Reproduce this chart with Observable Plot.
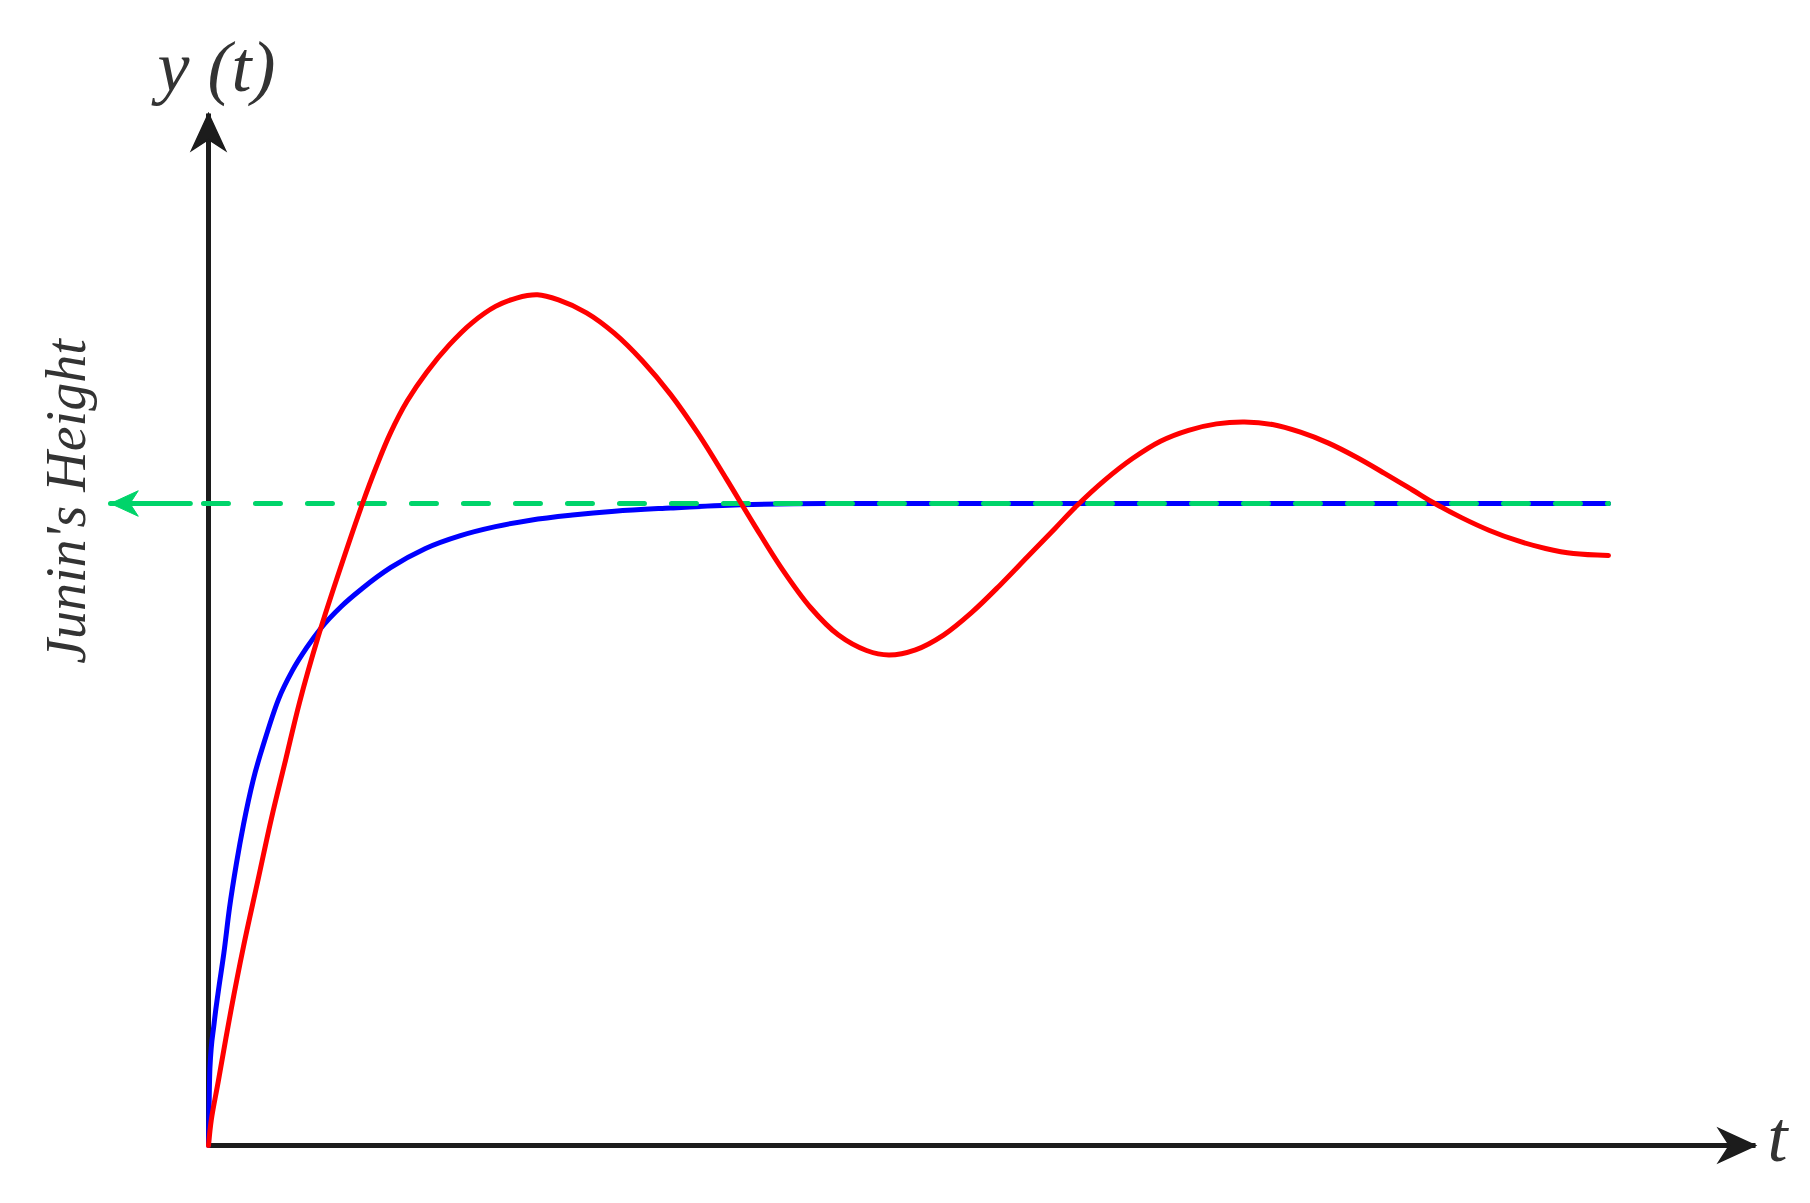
<!DOCTYPE html>
<html>
<head>
<meta charset="utf-8">
<script src="https://cdn.jsdelivr.net/npm/d3@7"></script>
<script src="https://cdn.jsdelivr.net/npm/@observablehq/plot@0.6"></script>
<style>
  html, body { margin: 0; padding: 0; background: #ffffff; }
  #chart svg { display: block; }
</style>
</head>
<body>
<div id="chart"></div>
<script>
// ---- data (t in arbitrary time units, y relative to Junin's height = 1) ----
const redT = [0, 0.02, 0.07, 0.16, 0.25, 0.35, 0.45, 0.55, 0.65, 0.78, 0.92, 1.10, 1.20, 1.30, 1.42, 1.56, 1.72, 1.88,
  2.05, 2.20, 2.35, 2.50, 2.70, 2.90, 3.10, 3.30, 3.50, 3.70, 3.90, 4.10, 4.30, 4.50, 4.70, 4.86, 5.05, 5.25, 5.45,
  5.65, 5.85, 6.05, 6.20, 6.40, 6.60, 6.80, 7.00, 7.20, 7.40, 7.60, 7.80, 8.00, 8.20, 8.40, 8.60, 8.76, 8.95, 9.15,
  9.35, 9.55, 9.75, 10.0];
const redY = [0, 0.04, 0.10, 0.21, 0.31, 0.41, 0.51, 0.60, 0.69, 0.79, 0.885, 1.00, 1.058, 1.110, 1.160, 1.205, 1.247, 1.281,
  1.307, 1.320, 1.325, 1.317, 1.297, 1.265, 1.222, 1.170, 1.108, 1.038, 0.966, 0.897, 0.838, 0.795, 0.771, 0.764, 0.772, 0.795, 0.830,
  0.872, 0.917, 0.962, 0.996, 1.036, 1.070, 1.097, 1.114, 1.124, 1.127, 1.123, 1.111, 1.094, 1.072, 1.047, 1.021, 1.00, 0.978, 0.958,
  0.942, 0.930, 0.922, 0.919];

const blueT = [0, 0.01, 0.04, 0.07, 0.11, 0.15, 0.20, 0.25, 0.32, 0.40, 0.50, 0.60, 0.70, 0.80, 0.95, 1.10, 1.30,
  1.55, 1.80, 2.05, 2.30, 2.60, 2.90, 3.30, 3.80, 4.40, 10.0];
const blueY = [0, 0.12, 0.19, 0.24, 0.30, 0.37, 0.44, 0.50, 0.57, 0.63, 0.695, 0.74, 0.775, 0.805, 0.84, 0.868, 0.90,
  0.93, 0.95, 0.964, 0.974, 0.982, 0.988, 0.993, 0.998, 1.0, 1.0];

const juninHeight = 1.0;          // level of the green dashed line
const levelStart = -0.036;        // dashed part start (t)
const levelEnd = 10.0;            // dashed part end (t)
const levelSolidFrom = -0.13;     // solid part next to the arrowhead
const levelTip = -0.70;           // arrow tip (t)

const xAxisEnd = 11.05;           // x-axis arrow tip (t)
const yAxisEnd = 1.6075;          // y-axis arrow tip (y)

const labelTexts = ["y (t)", "t"];
const labelX = [0.057, 11.207];
const labelY = [1.679, 0.0125];
const sideLabel = "Junin's Height";
const sideLabelX = -1.007;
const sideLabelY = 1.003;

// ---- tables built from arrays ----
const red = redT.map((t, i) => ({t, y: redY[i]}));
const blue = blueT.map((t, i) => ({t, y: blueY[i]}));
const level = [{t: levelStart, y: juninHeight}, {t: levelEnd, y: juninHeight}];
const levelSolid = [{t: levelSolidFrom, y: juninHeight}, {t: levelTip, y: juninHeight}];
const labels = labelTexts.map((s, i) => ({s, t: labelX[i], y: labelY[i]}));
const axes = [
  {x1: 0, y1: 0, x2: xAxisEnd, y2: 0},
  {x1: 0, y1: 0, x2: 0, y2: yAxisEnd}
];
const axisHeads = [
  {t: xAxisEnd, y: 0, rot: 90},
  {t: 0, y: yAxisEnd, rot: 0}
];

// filled chevron arrowhead symbol, tip at the origin, pointing up
const chevron = {
  draw(ctx, size) {
    const s = Math.sqrt(size) / Math.sqrt(Math.PI);  // = r
    ctx.moveTo(0, 0);
    ctx.lineTo(0.85 * s, 1.85 * s);
    ctx.lineTo(0, 1.3 * s);
    ctx.lineTo(-0.85 * s, 1.85 * s);
    ctx.closePath();
  }
};

const W = 1810, H = 1203;
const ink = "#1c1c1c";
const green = "#00d46a";
const chart = Plot.plot({
  width: W,
  height: H,
  margin: 0,
  x: {domain: [-208 / 140, (W - 208) / 140], axis: null},
  y: {domain: [-(H - 1145) / 642, 1145 / 642], axis: null},
  style: {background: "#ffffff"},
  marks: [
    // axes with arrowheads
    Plot.link(axes, {x1: "x1", y1: "y1", x2: "x2", y2: "y2", stroke: ink, strokeWidth: 5}),
    Plot.dot(axisHeads, {x: "t", y: "y", rotate: "rot", symbol: chevron, r: 20, fill: ink, stroke: ink, strokeWidth: 1.5}),
    // blue response
    Plot.line(blue, {x: "t", y: "y", stroke: "#0000ff", strokeWidth: 5, curve: "monotone-x"}),
    // green dashed Junin's height level with left arrow
    Plot.line(level, {x: "t", y: "y", stroke: green, strokeWidth: 5, strokeDasharray: "25,27"}),
    Plot.line(levelSolid, {x: "t", y: "y", stroke: green, strokeWidth: 5}),
    Plot.dot([{t: levelTip, y: juninHeight}], {x: "t", y: "y", rotate: -90, symbol: chevron, r: 15, fill: green, stroke: green, strokeWidth: 1}),
    // red response
    Plot.line(red, {x: "t", y: "y", stroke: "#ff0000", strokeWidth: 5, curve: "catmull-rom"}),
    // labels
    Plot.text(labels, {
      x: "t", y: "y", text: "s",
      fontFamily: "'Liberation Serif', 'Times New Roman', serif",
      fontStyle: "italic", fontSize: 72, fill: "#333333",
      textAnchor: "middle", lineAnchor: "middle"
    }),
    Plot.text([{s: sideLabel, t: sideLabelX, y: sideLabelY}], {
      x: "t", y: "y", text: "s", rotate: -90,
      fontFamily: "'Liberation Serif', 'Times New Roman', serif",
      fontStyle: "italic", fontSize: 56, fill: "#333333",
      textAnchor: "middle", lineAnchor: "middle"
    })
  ]
});
document.getElementById("chart").appendChild(chart);
</script>
</body>
</html>
